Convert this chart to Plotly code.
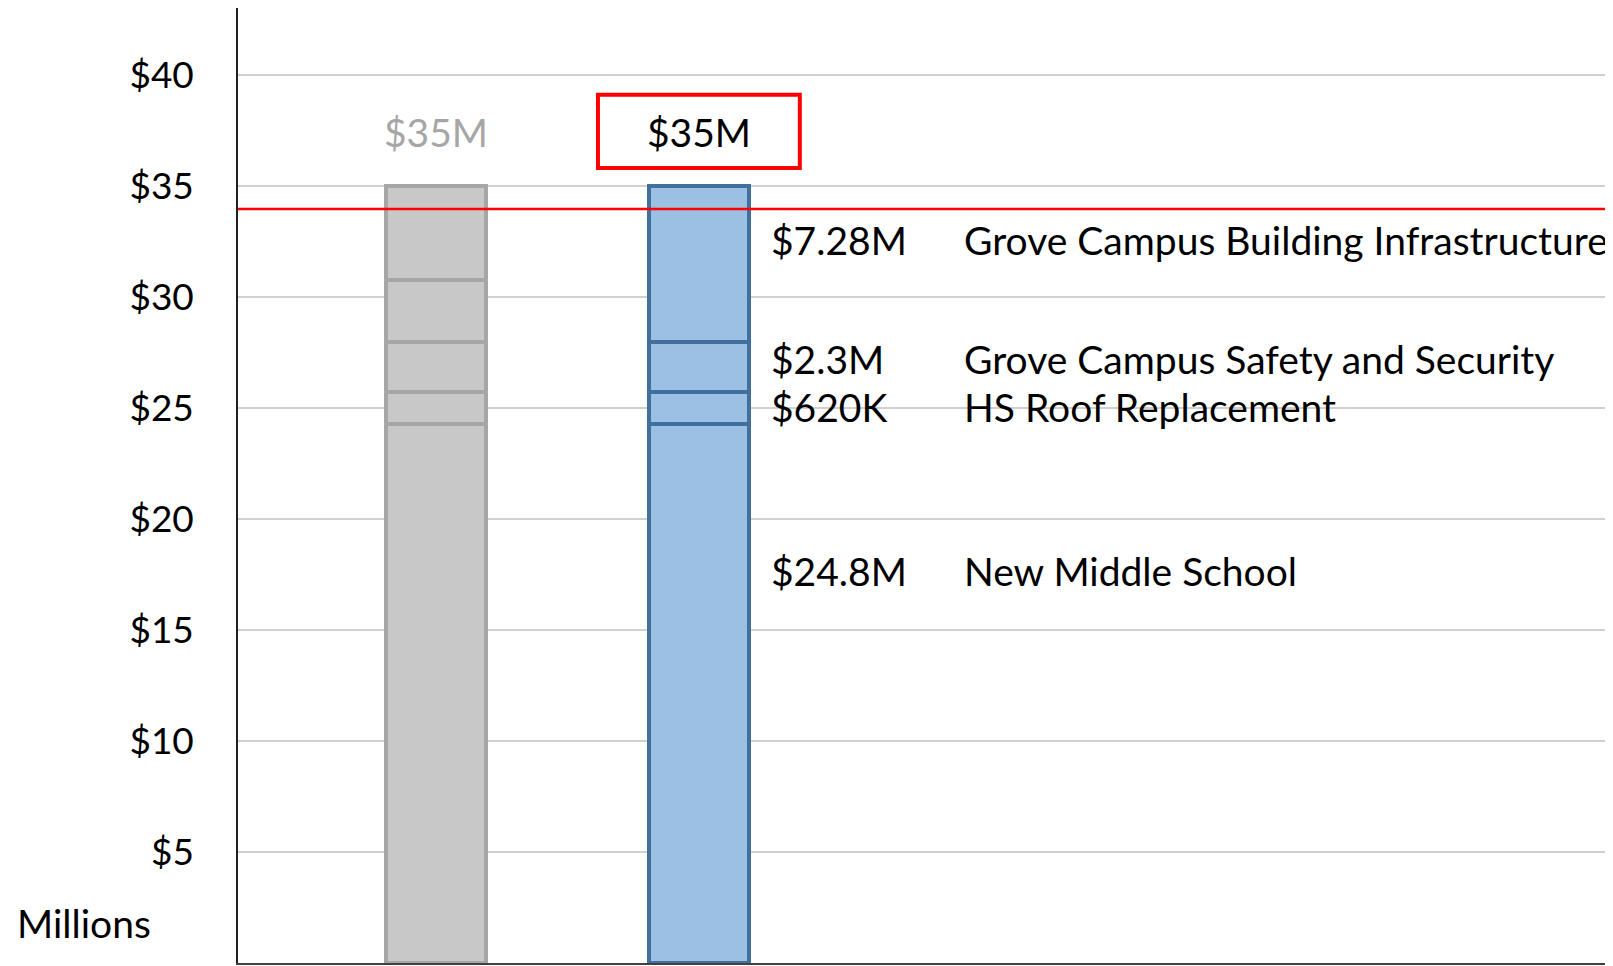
import plotly.graph_objects as go

# ---- data ----
scenarios = ["Before", "Proposed"]
gray_segments = [24.27, 1.45, 2.24, 2.81, 4.23]
blue_segments = [24.27, 1.45, 2.24, 7.04]
blue_amounts = ["$24.8M", "$620K", "$2.3M", "$7.28M"]
blue_projects = ["New Middle School", "HS Roof Replacement",
                 "Grove Campus Safety and Security", "Grove Campus Building Infrastructure"]
totals = ["$35M", "$35M"]
threshold = 33.95
tick_vals = [5, 10, 15, 20, 25, 30, 35, 40]
tick_text = ["$5", "$10", "$15", "$20", "$25", "$30", "$35", "$40"]

# ---- layout constants ----
FONT = "Lato, Carlito, Calibri, sans-serif"
FS = 39
label_y = [17.65, 25.03, 27.2, 32.55]
x_pos = [0, 1]
bar_w = 0.38

fig = go.Figure()
for v in gray_segments:
    fig.add_trace(go.Bar(x=[x_pos[0]], y=[v], width=bar_w,
                         marker=dict(color="#C8C8C8", line=dict(color="#A6A6A6", width=4)),
                         showlegend=False, hoverinfo="skip"))
for v in blue_segments:
    fig.add_trace(go.Bar(x=[x_pos[1]], y=[v], width=bar_w,
                         marker=dict(color="#9BC0E3", line=dict(color="#41709C", width=4)),
                         showlegend=False, hoverinfo="skip"))

# total labels
fig.add_annotation(x=x_pos[0], y=37.43, text=totals[0], showarrow=False,
                   font=dict(family=FONT, size=FS, color="#A6A6A6"))
fig.add_annotation(x=x_pos[1], y=37.43, text=totals[1], showarrow=False,
                   font=dict(family=FONT, size=FS, color="black"))
fig.add_shape(type="rect", x0=0.615, x1=1.381, y0=35.8, y1=39.09,
              line=dict(color="#FF0000", width=4), layer="above")

# segment labels
for amt, proj, yy in zip(blue_amounts, blue_projects, label_y):
    fig.add_annotation(x=1.264, y=yy, text=amt, showarrow=False, xanchor="left",
                       font=dict(family=FONT, size=FS, color="black"))
    fig.add_annotation(x=1.996, y=yy, text=proj, showarrow=False, xanchor="left",
                       font=dict(family=FONT, size=FS, color="black"))

# threshold line
fig.add_shape(type="line", xref="paper", x0=0, x1=1, y0=threshold, y1=threshold,
              line=dict(color="#FF0000", width=2.5), layer="above")

fig.add_annotation(xref="paper", yref="paper", x=-0.1625, y=0.042, text="Millions",
                   showarrow=False, xanchor="left", yanchor="middle",
                   font=dict(family=FONT, size=FS, color="black"))

fig.update_layout(
    barmode="stack",
    width=1605, height=958,
    margin=dict(l=230, r=5, t=0, b=3),
    paper_bgcolor="white", plot_bgcolor="white",
    font=dict(family=FONT, size=FS, color="black"),
    xaxis=dict(range=[-0.751, 4.448], showticklabels=False, showgrid=False,
               zeroline=False, showline=True, linecolor="#404040", linewidth=1.5,
               fixedrange=True),
    yaxis=dict(range=[0, 43.0], tickvals=tick_vals, ticktext=tick_text,
               showgrid=True, gridcolor="#D0D0D0", gridwidth=1.5, zeroline=False,
               showline=True, linecolor="#202020", linewidth=1.5,
               ticks="", ticklabelstandoff=35,
               tickfont=dict(family=FONT, size=37, color="black")),
)

fig.write_html("out.html")
